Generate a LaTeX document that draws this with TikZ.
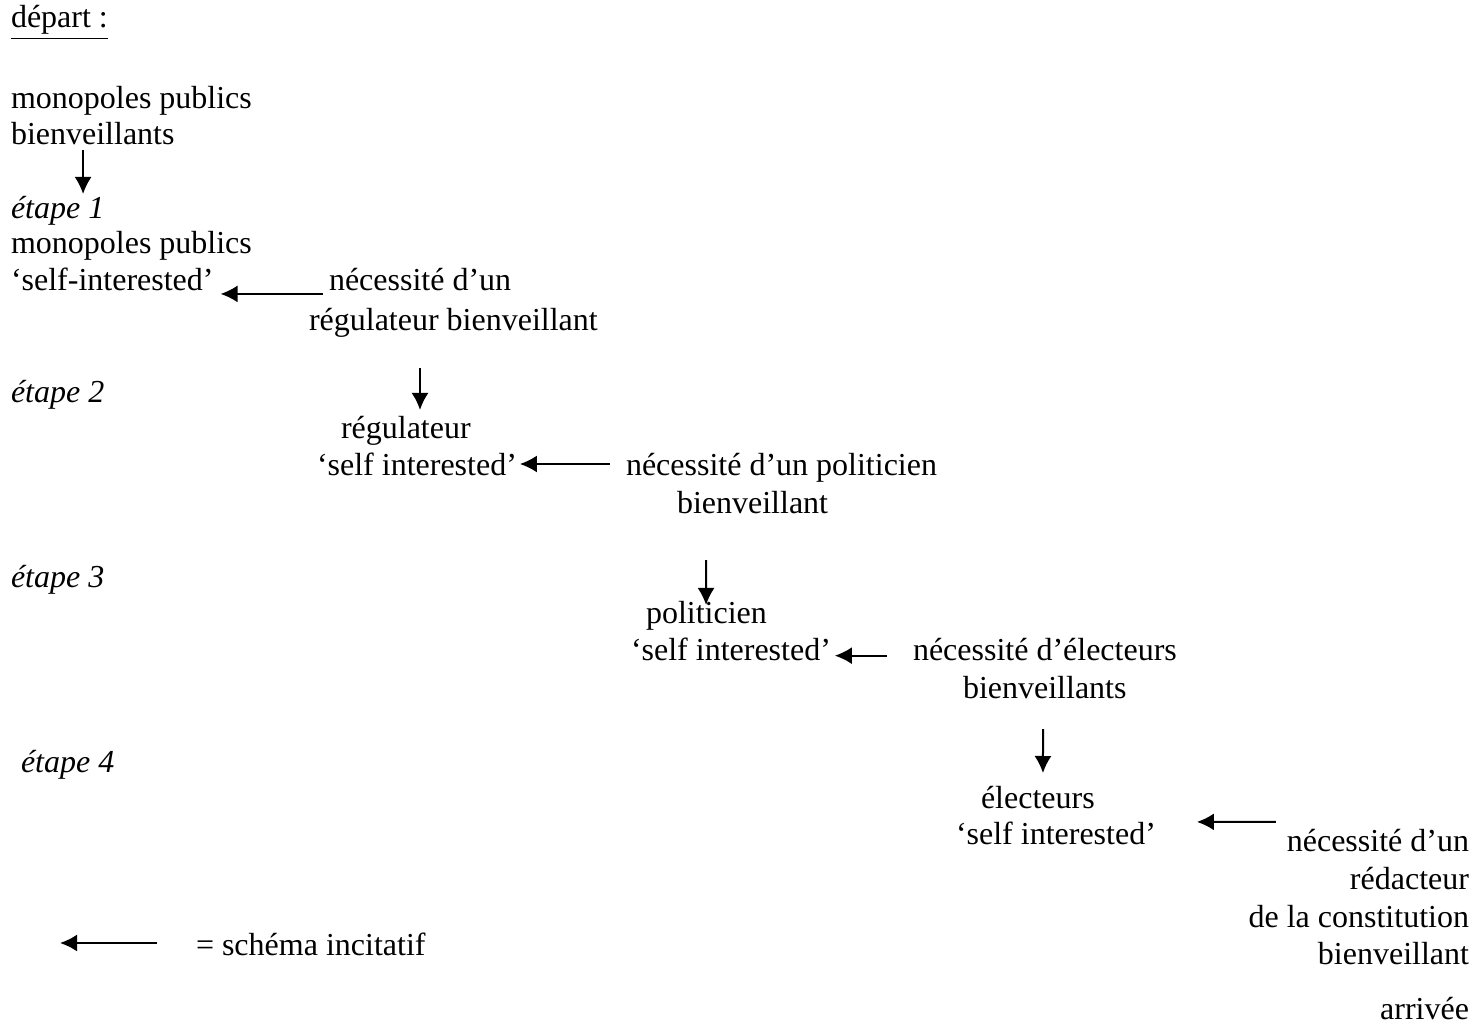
\documentclass[tikz,border=0pt]{standalone}
\usepackage{fontspec}
\setmainfont{Liberation Serif}
\usetikzlibrary{arrows.meta}

\begin{document}
\begin{tikzpicture}[
    x=0.375pt, y=-0.375pt,
    >={Latex[length=6.4pt,width=6.4pt]},
    textnode/.style={anchor=base west, inner sep=0pt, text height=9pt, text depth=3pt},
    rightnode/.style={textnode, anchor=base east},
    stagenode/.style={textnode, font=\fontsize{12pt}{13.9pt}\selectfont\itshape},
    ]
    \tikzstyle{every node}=[font=\fontsize{12pt}{13.9pt}\selectfont]
    \tikzstyle{every path}=[line width=0.75pt]
    \useasboundingbox (0,0) rectangle (1478,1032);
    %Nodes
    \node[textnode]  (depart) at (10,28)   {\underline{départ :}};
    \node[textnode]  (mono0)  at (10,109)  {monopoles publics};
    \node[textnode]  (bien0)  at (10,145)  {bienveillants};
    \node[stagenode] (etape1) at (10,219)  {étape 1};
    \node[textnode]  (mono1)  at (10,254)  {monopoles publics};
    \node[textnode]  (self1)  at (10,291)  {‘self-interested’};
    \node[textnode]  (nec1)   at (328,291) {nécessité d’un};
    \node[textnode]  (reg1)   at (308,331) {régulateur bienveillant};
    \node[stagenode] (etape2) at (10,403)  {étape 2};
    \node[textnode]  (reg2)   at (340,439) {régulateur};
    \node[textnode]  (self2)  at (316,476) {‘self interested’};
    \node[textnode]  (nec2)   at (625,476) {nécessité d’un politicien};
    \node[textnode]  (bien2)  at (676,514) {bienveillant};
    \node[stagenode] (etape3) at (10,588)  {étape 3};
    \node[textnode]  (pol3)   at (645,624) {politicien};
    \node[textnode]  (self3)  at (630,661) {‘self interested’};
    \node[textnode]  (nec3)   at (912,661) {nécessité d’électeurs};
    \node[textnode]  (bien3)  at (962,699) {bienveillants};
    \node[stagenode] (etape4) at (20,773)  {étape 4};
    \node[textnode]  (elec4)  at (980,809) {électeurs};
    \node[textnode]  (self4)  at (955,845) {‘self interested’};
    \node[rightnode] (nec4)   at (1470,852) {nécessité d’un};
    \node[rightnode] (red4)   at (1470,890) {rédacteur};
    \node[rightnode] (const4) at (1470,927) {de la constitution};
    \node[rightnode] (bien4)  at (1470,964) {bienveillant};
    \node[textnode]  (legende) at (195,955) {= schéma incitatif};
    \node[rightnode] (arrivee) at (1470,1019) {arrivée};
    \coordinate (legtip) at (60,943); % free end of the legend arrow

    %Lines
    \draw[->, shorten <=-1.5pt] ([xshift=27.4pt]bien0.south west) -- ([xshift=27.4pt]etape1.north west);
    \draw[->, shorten <=1.9pt, shorten >=2.25pt] ([yshift=-4.1pt]nec1.west) -- ([yshift=-4.1pt]self1.east);
    \draw[->, shorten <=10.5pt, shorten >=1.5pt] ([xshift=42pt]reg1.south west) -- ([xshift=30pt]reg2.north west);
    \draw[->, shorten <=5.6pt, shorten >=0.75pt] ([yshift=1.5pt]nec2.west) -- ([yshift=1.5pt]self2.east);
    \draw[->, shorten <=13.9pt, shorten >=-2.25pt] ([xshift=11.25pt]bien2.south west) -- ([xshift=22.9pt]pol3.north west);
    \draw[->, shorten <=9.4pt, shorten >=1.1pt] ([yshift=-1pt]nec3.west) -- ([yshift=-1pt]self3.east);
    \draw[->, shorten <=7.9pt, shorten >=4.1pt] ([xshift=30.4pt]bien3.south west) -- ([xshift=23.6pt]elec4.north west);
    \draw[->, shorten <=3.75pt, shorten >=15pt] ([yshift=8.3pt]nec4.west) -- ([yshift=5.65pt]self4.east);
    \draw[->, shorten <=14.25pt] ([yshift=1.5pt]legende.west) -- (legtip);
\end{tikzpicture}
\end{document}
